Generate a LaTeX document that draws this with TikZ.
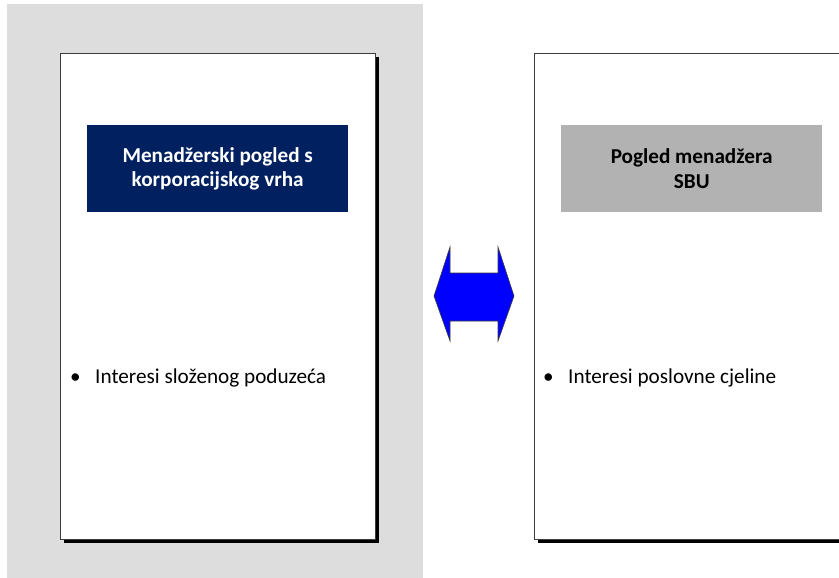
\documentclass[tikz,border=0pt]{standalone}
\usepackage{fontspec}
\setmainfont{Carlito}
\definecolor{panelgray}{RGB}{221,221,221}
\definecolor{topnavy}{RGB}{0,32,96}
\definecolor{sbugray}{RGB}{178,178,178}
\definecolor{edgegray}{RGB}{60,60,60}
\begin{document}
\begin{tikzpicture}[x=1pt,y=-1pt,
  card/.style={draw=edgegray,line width=0.9pt,fill=white,
    minimum width=315pt,minimum height=486pt,anchor=north west,inner sep=0pt},
  cardshadow/.style={fill=black,minimum width=315pt,minimum height=486pt,
    anchor=north west,inner sep=0pt},
  headbox/.style={minimum width=261pt,minimum height=87pt,anchor=north west,
    inner sep=0pt,align=center,font=\fontsize{21.2}{24.5}\selectfont\bfseries},
  bullet/.style={anchor=base west,inner sep=0pt,font=\fontsize{21.2}{24.5}\selectfont}]
\useasboundingbox (0,0) rectangle (839,578);
% grey panel behind the corporate view
\fill[panelgray] (7,4) rectangle (423,578);
% left card: corporate management view
\node[cardshadow] (lsh) at (64,57) {};
\node[card] (lcard) at (60,53) {};
\node[headbox,fill=topnavy,text=white] (ltitle) at (87,125)
  {Menadžerski pogled s\\korporacijskog vrha};
\node[bullet] (lbul) at (70,383) {•\hspace{14.5pt}Interesi složenog poduzeća};
% right card: SBU management view
\node[cardshadow] (rsh) at (538,57) {};
\node[card] (rcard) at (534,53) {};
\node[headbox,fill=sbugray,text=black] (rtitle) at (561,125)
  {Pogled menadžera\\SBU};
\node[bullet] (rbul) at (543,383) {•\hspace{14.5pt}Interesi poslovne cjeline};
% two-headed block arrow between the views
\filldraw[fill=blue,draw=edgegray,line width=0.6pt]
  (434,296) -- (450,247) -- (450,273) -- (498,273) -- (498,247) -- (514,296)
  -- (498,341) -- (498,321) -- (450,321) -- (450,341) -- cycle;
\end{tikzpicture}
\end{document}
